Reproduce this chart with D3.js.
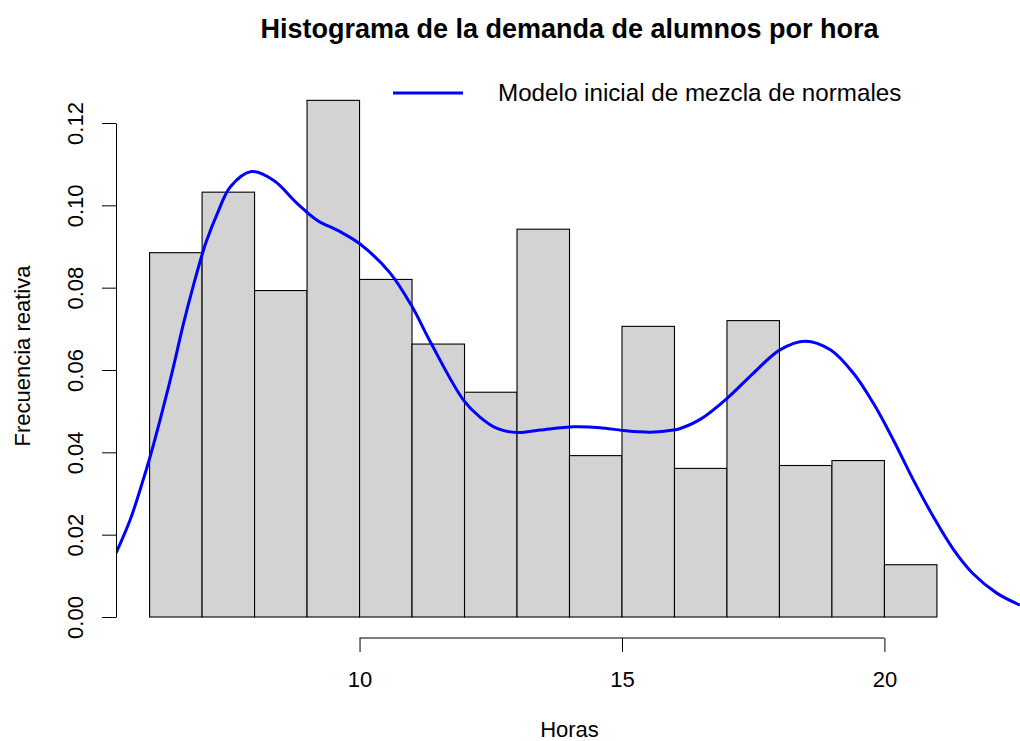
<!DOCTYPE html>
<html lang="es">
<head>
  <meta charset="UTF-8" />
  <title>Histograma de la demanda de alumnos por hora</title>
  <script src="https://d3js.org/d3.v7.min.js"></script>
  <style>
    body { margin: 0; background: #fff; }
    svg { display: block; font-family: "Liberation Sans", Arial, sans-serif; }
  </style>
</head>
<body>
  <div id="chart"></div>

  <script>
    // histogram bins (hours) and relative frequency of each bin
    const binEdges = [6, 7, 8, 9, 10, 11, 12, 13, 14, 15, 16, 17, 18, 19, 20, 21];
    const relFreq = [0.0885, 0.1032, 0.0793, 0.1255, 0.0820, 0.0663, 0.0546, 0.0942,
                     0.0392, 0.0706, 0.0361, 0.0720, 0.0368, 0.0380, 0.0127];

    // initial normal mixture model
    const modelHours = [5.36, 5.63, 5.87, 6.0, 6.2, 6.43, 6.65, 6.84, 7.0, 7.08, 7.29, 7.54,
                        7.94, 8.36, 8.81, 9.19, 9.63, 10.01, 10.58, 11.0, 11.35, 11.98,
                        12.3, 12.62, 13.0, 13.44, 14.08, 14.58, 15.03, 15.54, 15.98, 16.11,
                        16.49, 17.0, 17.5, 18.01, 18.49, 18.97, 19.41, 19.79, 20.17, 20.55,
                        20.93, 21.31, 21.69, 22.14, 22.58];
    const modelDensity = [0.0155, 0.0236, 0.0330, 0.0385, 0.0479, 0.0595, 0.0715, 0.0808, 0.0880,
                          0.0912, 0.0980, 0.1045, 0.1082, 0.1061, 0.1005, 0.0964, 0.0936, 0.0906,
                          0.0836, 0.0754, 0.0668, 0.0527, 0.0485, 0.0458, 0.0448, 0.0454,
                          0.0462, 0.0460, 0.0453, 0.0449, 0.0454, 0.0458, 0.0480, 0.0531, 0.0592,
                          0.0649, 0.0670, 0.0649, 0.0592, 0.0519, 0.0430, 0.0333, 0.0244, 0.0165,
                          0.0105, 0.0058, 0.0029];

    const xTicks = [10, 15, 20];
    const yTicks = [0, 0.02, 0.04, 0.06, 0.08, 0.10, 0.12];

    const width = 1020, height = 741;
    const plot = {left: 116, right: 1023, top: 71, bottom: 638};

    const svg = d3.select("#chart")
      .append("svg")
      .attr("width", width)
      .attr("height", height);

    const x = d3.scaleLinear()
      .domain([5.36, 22.64])
      .range([plot.left, plot.right]);

    const y = d3.scaleLinear()
      .domain([0, 0.12])
      .range([617, 123]);

    const bins = relFreq.map((v, i) => ({x0: binEdges[i], x1: binEdges[i + 1], v: v}));

    // bars
    svg.append("g")
      .selectAll("rect")
      .data(bins)
      .enter()
      .append("rect")
      .attr("x", d => x(d.x0))
      .attr("y", d => y(d.v))
      .attr("width", d => x(d.x1) - x(d.x0))
      .attr("height", d => y(0) - y(d.v))
      .attr("fill", "#d3d3d3")
      .attr("stroke", "#000")
      .attr("stroke-width", 1.1);

    // model curve, clipped to the plot region
    svg.append("clipPath")
      .attr("id", "clip")
      .append("rect")
      .attr("x", plot.left)
      .attr("y", plot.top)
      .attr("width", plot.right - plot.left)
      .attr("height", plot.bottom - plot.top);

    const model = modelHours.map((h, i) => [h, modelDensity[i]]);

    svg.append("path")
      .datum(model)
      .attr("clip-path", "url(#clip)")
      .attr("fill", "none")
      .attr("stroke", "#0000ff")
      .attr("stroke-width", 3)
      .attr("d", d3.line()
        .curve(d3.curveCatmullRom.alpha(0.5))
        .x(d => x(d[0]))
        .y(d => y(d[1]))
      );

    // y axis
    const yAxis = svg.append("g")
      .attr("transform", `translate(${plot.left},0)`)
      .call(d3.axisLeft(y).tickValues(yTicks).tickSize(14).tickSizeOuter(0)
        .tickFormat(d3.format(".2f")));

    yAxis.selectAll("text")
      .attr("transform", "rotate(-90)")
      .attr("x", 0)
      .attr("y", -33)
      .attr("dy", 0)
      .attr("text-anchor", "middle");

    // x axis (line only between first and last tick, like R)
    const xAxis = svg.append("g")
      .attr("transform", `translate(0,${plot.bottom})`)
      .call(d3.axisBottom(x).tickValues(xTicks).tickSize(14).tickSizeOuter(0));

    xAxis.select(".domain").remove();
    xAxis.append("line")
      .attr("x1", x(xTicks[0]))
      .attr("x2", x(xTicks[xTicks.length - 1]))
      .attr("stroke", "#000");

    xAxis.selectAll("text")
      .attr("y", 49)
      .attr("dy", 0);

    svg.selectAll(".tick text")
      .attr("fill", "#000")
      .style("font-size", "22px")
      .style("font-family", "\"Liberation Sans\", Arial, sans-serif");
    svg.selectAll(".tick line, .domain").attr("stroke", "#000");

    // titles
    const midX = (plot.left + plot.right) / 2;

    svg.append("text")
      .attr("x", midX)
      .attr("y", 38)
      .attr("text-anchor", "middle")
      .style("font-size", "27px")
      .style("font-weight", "bold")
      .text("Histograma de la demanda de alumnos por hora");

    svg.append("text")
      .attr("x", midX)
      .attr("y", 737)
      .attr("text-anchor", "middle")
      .style("font-size", "22px")
      .text("Horas");

    svg.append("text")
      .attr("transform", `translate(30,356) rotate(-90)`)
      .attr("text-anchor", "middle")
      .style("font-size", "22px")
      .text("Frecuencia reativa");

    // legend (no box)
    svg.append("line")
      .attr("x1", 393)
      .attr("x2", 463)
      .attr("y1", 93)
      .attr("y2", 93)
      .attr("stroke", "#0000ff")
      .attr("stroke-width", 3);

    svg.append("text")
      .attr("x", 498)
      .attr("y", 101)
      .style("font-size", "24.2px")
      .text("Modelo inicial de mezcla de normales");
  </script>
</body>
</html>
